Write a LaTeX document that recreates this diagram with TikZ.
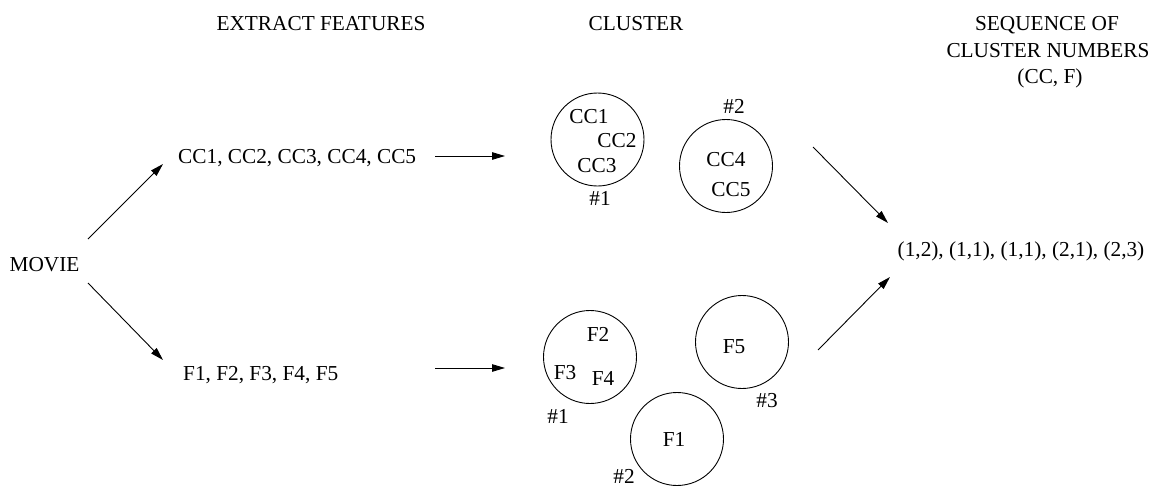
\documentclass[tikz,border=0pt]{standalone}
\usepackage{fontspec}
\setmainfont{Liberation Serif}
\usetikzlibrary{arrows.meta,positioning}

\begin{document}
\begin{tikzpicture}[x=1pt,y=-1pt,>={Triangle[length=13pt,width=7.5pt]},
    lbl/.style={inner sep=0pt,anchor=base,font=\fontsize{21.3}{25.5}\selectfont},
    clus/.style={draw,circle,line width=0.9pt,minimum size=93pt,inner sep=0pt},
    link/.style={->,line width=0.9pt}]
\useasboundingbox (0,0) rectangle (1153,487);
\node[lbl] (extract) at (321,31) {EXTRACT FEATURES};
\node[lbl] (cluster) at (636,31) {CLUSTER};
\node[lbl] (seq1) at (1047,31) {SEQUENCE OF};
\node[lbl] (seq2) at (1048,57.5) {CLUSTER NUMBERS};
\node[lbl] (seq3) at (1050,84) {(CC, F)};
\node[lbl] (movie) at (44.5,271.5) {MOVIE};
\node[lbl,anchor=base west] (ccrow) at (178,163) {CC1, CC2, CC3, CC4, CC5};
\node[lbl,anchor=base west] (frow) at (183,380) {F1, F2, F3, F4, F5};
\node[lbl] (seqrow) at (1021,256) {(1,2), (1,1), (1,1), (2,1), (2,3)};
% colour coefficient clusters
\node[clus] (cc1) at (597.5,139.5) {};
\node[lbl] at (589,123) {CC1};
\node[lbl] at (617,147) {CC2};
\node[lbl] at (597,172) {CC3};
\node[lbl] at (600,205) {\#1};
\node[clus] (cc2) at (726,166) {};
\node[lbl] at (734,113) {\#2};
\node[lbl] at (726,166) {CC4};
\node[lbl] at (731,196) {CC5};
% feature clusters
\node[clus] (f1) at (590,357) {};
\node[lbl] at (598,341) {F2};
\node[lbl] at (565,379) {F3};
\node[lbl] at (603,385) {F4};
\node[lbl] at (558,423) {\#1};
\node[clus] (f2) at (677,439) {};
\node[lbl] at (674,446) {F1};
\node[lbl] at (624,483.5) {\#2};
\node[clus] (f3) at (742,342) {};
\node[lbl] at (734,353) {F5};
\node[lbl] at (767,407) {\#3};
\coordinate (movie-up) at (88,239);
\coordinate (movie-dn) at (88,283);
\coordinate (ccrow-in) at (163,164);
\coordinate (frow-in) at (163,360);
\coordinate (ccrow-out) at (435,156);
\coordinate (cc-in) at (505,156);
\coordinate (frow-out) at (435,368);
\coordinate (f-in) at (505,368);
\coordinate (cc-out) at (813,147);
\coordinate (f-out) at (818,350);
\coordinate (seq-up) at (888,223);
\coordinate (seq-dn) at (890,277);
\draw[link] (movie-up) -- (ccrow-in);
\draw[link] (movie-dn) -- (frow-in);
\draw[link] (ccrow-out) -- (cc-in);
\draw[link] (frow-out) -- (f-in);
\draw[link] (cc-out) -- (seq-up);
\draw[link] (f-out) -- (seq-dn);
\end{tikzpicture}
\end{document}
